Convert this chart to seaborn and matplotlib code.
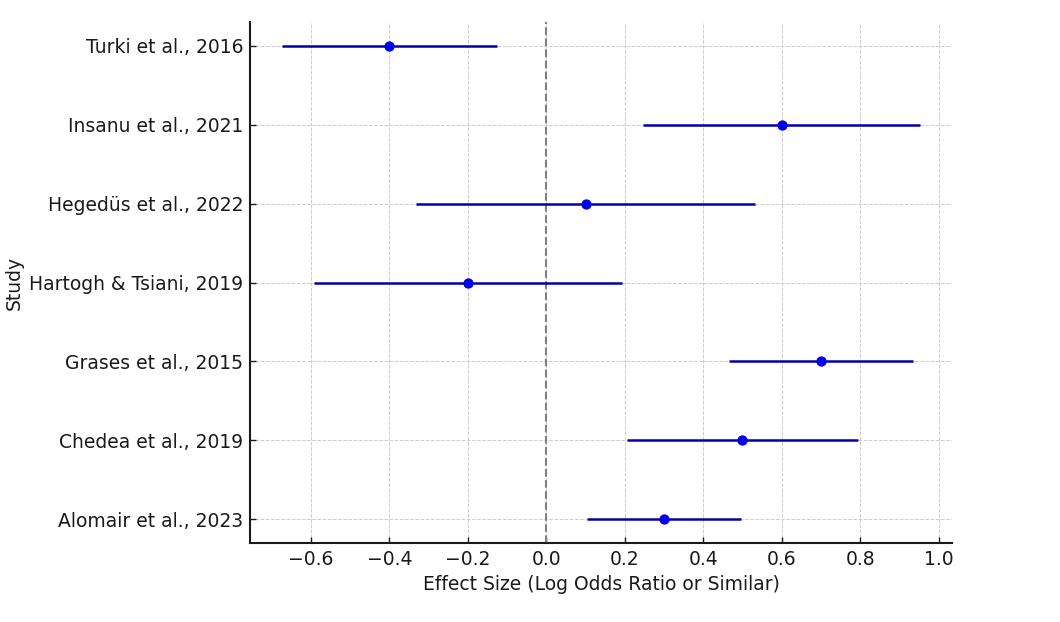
import matplotlib
matplotlib.use("Agg")
import matplotlib.pyplot as plt
import seaborn as sns
import pandas as pd
import numpy as np

studies = ["Alomair et al., 2023", "Chedea et al., 2019", "Grases et al., 2015",
           "Hartogh & Tsiani, 2019", "Hegedüs et al., 2022", "Insanu et al., 2021",
           "Turki et al., 2016"]
effect = [0.30, 0.50, 0.70, -0.20, 0.10, 0.60, -0.40]
ci_low = [0.104, 0.206, 0.465, -0.592, -0.331, 0.247, -0.674]
ci_high = [0.496, 0.794, 0.935, 0.192, 0.531, 0.953, -0.126]

df = pd.DataFrame({"Study": studies, "Effect": effect, "Low": ci_low, "High": ci_high})

sns.set_theme(style="whitegrid")
plt.rcParams['font.family'] = ['DejaVu Sans']

fig = plt.figure(figsize=(10.6, 6.22), dpi=100)
ax = fig.add_axes([250/1060, 1-543/622, (952-250)/1060, (543-22)/622])

ypos = np.arange(len(df))
ax.errorbar(df["Effect"], ypos,
            xerr=[df["Effect"] - df["Low"], df["High"] - df["Effect"]],
            fmt="none", ecolor="#0000AA", elinewidth=1.8, capsize=0, zorder=3)
sns.scatterplot(x="Effect", y=ypos, data=df, ax=ax, color="#0000EE", s=55,
                edgecolor="#0000EE", linewidth=0, zorder=4, legend=False)
ax.axvline(0, color="gray", linestyle="--", linewidth=1.5, zorder=2)

ax.set_yticks(ypos)
ax.set_yticklabels(df["Study"])
ax.set_xticks([-0.6, -0.4, -0.2, 0.0, 0.2, 0.4, 0.6, 0.8, 1.0])
ax.set_xlabel("Effect Size (Log Odds Ratio or Similar)", fontsize=13.5, color="#1a1a1a", labelpad=4)
ax.set_ylabel("Study", fontsize=13.5, color="#1a1a1a", labelpad=4)
ax.tick_params(axis="both", labelsize=13.5, direction="in", length=4, width=1,
               colors="#1a1a1a", left=True, bottom=True, pad=5)
ax.margins(x=0.05, y=0.05)

ax.grid(True, linestyle="--", color="#cccccc", linewidth=0.7)
ax.set_facecolor("white")
for s in ["top", "right"]:
    ax.spines[s].set_visible(False)
for s in ["left", "bottom"]:
    ax.spines[s].set_visible(True)
    ax.spines[s].set_color("#1a1a1a")
    ax.spines[s].set_linewidth(1.5)

fig.savefig("out.png", dpi=100, facecolor="white")
